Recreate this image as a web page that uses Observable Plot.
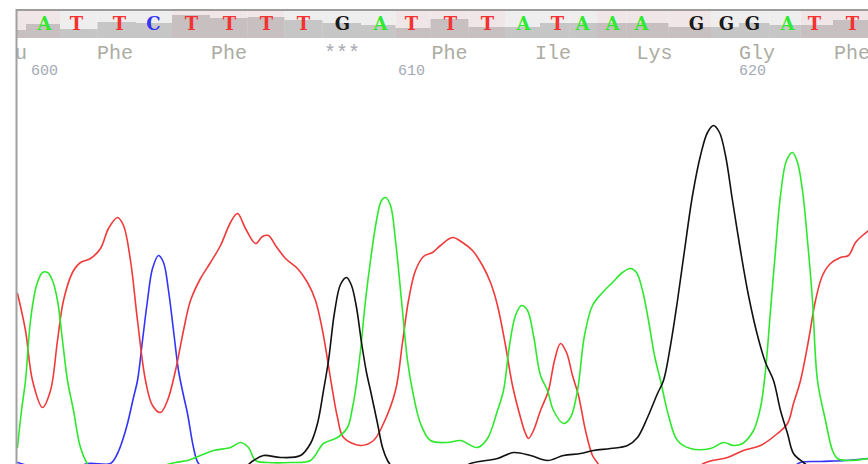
<!DOCTYPE html>
<html><head><meta charset="utf-8">
<script src="https://cdn.jsdelivr.net/npm/d3@7"></script>
<script src="https://cdn.jsdelivr.net/npm/@observablehq/plot@0.6"></script>
<style>
body{margin:0;background:#fff}
#chart{width:868px;height:464px;overflow:hidden}
#chart svg{display:block}
g[aria-label="amino"] text{letter-spacing:3px}
g[aria-label="position"] text{letter-spacing:1px}
</style></head><body><div id="chart"></div>
<script>
// ---- base calls (positions 598..624) ----
const basePositions = [598,599,600,601,602,603,604,605,606,607,608,609,610,611,612,613,614,615,616,617,618,619,620,621,622,623,624];
const baseCalls = ["T","T","A","T","T","C","T","T","T","T","G","A","T","T","T","A","T","A","A","A","G","G","G","A","T","T","T"];
const baseScans = [-27,8,44,76,119,153,191,229,266,303,342,380,411,450,487,523,557,582,612,641,696,726,752,787,814,852,889];
const qualities = [20,16,28,18,32,30,46,40,42,36,30,26,20,38,22,22,30,30,30,30,22,22,30,26,26,36,30];
const aminoAcids = ["Leu","Phe","Phe","***","Phe","Ile","Lys","Gly","Phe"];
const positionTicks = [600,610,620];

// ---- trace channels: [scan, signal] ----
const traceA = [[17,25],[21,62],[25,92],[30,152],[36,187],[42,200],[47,200],[52,192],[57,172],[62,132],[67,92],[73,62],[80,25],[88,7],[100,-5],[130,-5],[160,6],[175,10],[187,12],[200,17],[213,22],[230,25],[240,30],[248,25],[255,12],[267,10],[290,10],[310,12],[323,29],[337,35],[347,45],[352,65],[355,82],[360,122],[365,172],[370,212],[376,252],[381,272],[385,275],[390,267],[395,232],[401,172],[407,112],[412,82],[420,49],[430,32],[447,30],[460,32],[477,25],[487,34],[497,62],[503,82],[509,127],[515,157],[521,167],[527,162],[533,137],[540,97],[547,82],[553,62],[563,49],[570,55],[577,82],[584,137],[592,167],[602,180],[612,190],[622,200],[630,204],[636,200],[642,182],[648,152],[654,117],[660,92],[668,57],[677,32],[690,24],[710,24],[723,30],[733,27],[742,29],[753,42],[760,65],[765,102],[770,162],[775,222],[780,277],[786,312],[792,320],[797,310],[802,282],[807,232],[812,172],[817,92],[825,52],[832,22],[837,14],[847,12],[868,14]];
const traceT = [[17,179],[25,142],[32,92],[42,65],[50,82],[57,132],[63,172],[72,200],[80,210],[90,214],[100,224],[108,244],[117,255],[123,247],[130,212],[137,152],[145,92],[152,67],[160,60],[167,72],[175,102],[183,142],[190,172],[200,194],[210,210],[220,227],[230,250],[237,259],[245,244],[255,229],[262,236],[268,237],[275,227],[285,214],[297,204],[307,190],[315,172],[322,142],[332,82],[337,55],[343,35],[360,27],[373,32],[383,49],[395,82],[402,130],[408,172],[415,202],[423,216],[432,220],[440,227],[452,235],[462,230],[472,222],[482,207],[490,190],[497,167],[505,127],[512,87],[520,55],[525,39],[528,34],[533,42],[540,62],[548,82],[554,112],[560,129],[566,120],[572,97],[578,77],[585,42],[592,17],[598,8],[605,-8],[620,-18],[650,-23],[680,-13],[703,9],[727,15],[743,22],[760,27],[777,39],[787,49],[793,69],[800,92],[808,132],[815,172],[822,197],[830,209],[840,215],[848,217],[855,230],[862,237],[868,242]];
const traceC = [[17,10],[40,4],[70,2],[87,9],[110,9],[117,19],[122,32],[127,49],[133,75],[137,92],[142,132],[147,172],[152,204],[158,217],[163,210],[168,182],[173,142],[178,102],[183,77],[187,59],[193,25],[198,9],[210,0],[260,-8],[400,-10],[600,-10],[750,-6],[790,4],[800,10],[820,11],[845,12],[868,14]];
const traceG = [[200,-8],[240,2],[253,12],[263,17],[280,15],[300,17],[310,29],[317,49],[323,82],[328,112],[334,160],[340,188],[346,195],[351,187],[356,165],[361,130],[366,100],[370,82],[377,49],[382,25],[387,12],[392,5],[400,-3],[450,-3],[470,9],[497,14],[513,20],[530,17],[547,12],[563,17],[580,19],[593,22],[610,24],[627,27],[637,35],[647,55],[657,79],[663,92],[670,127],[677,172],[684,222],[692,277],[700,317],[707,340],[713,347],[719,340],[725,317],[732,272],[740,222],[748,177],[757,137],[765,110],[773,92],[780,62],[787,39],[793,19],[803,10],[815,2],[868,-3]];

const baseColors = {A:"#2eea2e", T:"#f43232", C:"#3434f6", G:"#1a1a1a"};
const xDomain = [16, 868];

// ---- derived tables ----
const bases = basePositions.map((p, i) => {
  const s = baseScans[i];
  const prev = i > 0 ? baseScans[i-1] : s - (baseScans[1] - baseScans[0]);
  const next = i < baseScans.length - 1 ? baseScans[i+1] : s + (s - baseScans[i-1]);
  return {pos: p, base: baseCalls[i], scan: s, qv: qualities[i],
          x1: (prev + s) / 2, x2: (s + next) / 2, codon: Math.floor(i / 3)};
});
const codons = aminoAcids.map((aa, k) => ({aa, x: (bases[3*k].scan + bases[3*k+2].scan) / 2}));
const ticks = positionTicks.map(p => ({label: String(p), x: bases.find(b => b.pos === p).scan}));

const header = Plot.plot({
  width: 868, height: 76,
  marginTop: 11, marginBottom: 0, marginLeft: 16, marginRight: 0,
  x: {domain: xDomain, axis: null},
  y: {domain: [0, 54], range: [38, 11], axis: null},
  color: {type: "identity"},
  marks: [
    Plot.rect(bases, {x1: "x1", x2: "x2", y1: 0, y2: 54, fill: d => d.codon % 2 ? "#eeeeee" : "#f0e5e7", clip: true}),
    Plot.rect(bases, {x1: "x1", x2: "x2", y1: 0, y2: "qv", fill: "#2a2a2a", fillOpacity: 0.2, clip: true}),
    Plot.text(bases, {x: "scan", frameAnchor: "top", lineAnchor: "middle", dy: 13, text: "base", fill: d => baseColors[d.base],
      fontFamily: "DejaVu Serif", fontSize: 18, fontWeight: "bold", clip: true}),
    Plot.text(codons, {x: "x", frameAnchor: "top", lineAnchor: "middle", dy: 41, text: "aa", fill: d => d.aa === "***" ? "#a6a6b0" : "#ababa2",
      fontFamily: "Liberation Mono", fontSize: 20, clip: true, ariaLabel: "amino"}),
    Plot.text(ticks, {x: "x", frameAnchor: "top", lineAnchor: "middle", dy: 59, text: "label", fill: "#a3a9b6",
      fontFamily: "Liberation Mono", fontSize: 15, clip: true, ariaLabel: "position"}),
    Plot.ruleY([54], {stroke: "#9c9c9c", strokeWidth: 2, dy: -1.5}),
    Plot.ruleX([16], {stroke: "#a0a0a0", strokeWidth: 2, insetTop: -2})
  ]
});

const traces = Plot.plot({
  width: 868, height: 388,
  marginTop: 0, marginBottom: 0, marginLeft: 16, marginRight: 0,
  x: {domain: xDomain, axis: null},
  y: {domain: [8, 396], axis: null},
  marks: [
    Plot.line(traceC, {stroke: "#3434f6", strokeWidth: 1.6, curve: "catmull-rom", clip: true}),
    Plot.line(traceT, {stroke: "#f03a3a", strokeWidth: 1.6, curve: "catmull-rom", clip: true}),
    Plot.line(traceA, {stroke: "#2ee82e", strokeWidth: 1.6, curve: "catmull-rom", clip: true}),
    Plot.line(traceG, {stroke: "#111111", strokeWidth: 1.6, curve: "catmull-rom", clip: true}),
    Plot.ruleX([16], {stroke: "#a0a0a0", strokeWidth: 2})
  ]
});

const el = document.getElementById("chart");
el.appendChild(header);
el.appendChild(traces);
</script></body></html>
